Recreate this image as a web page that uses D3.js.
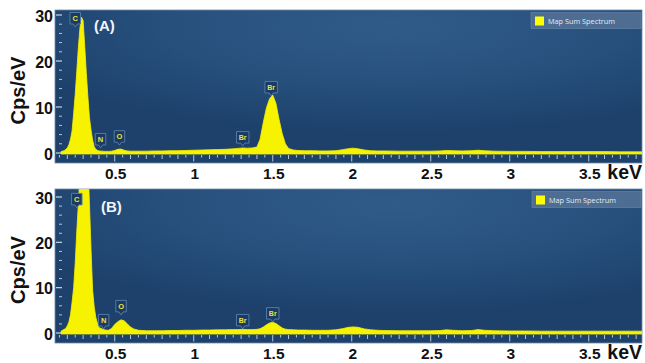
<!DOCTYPE html>
<html>
<head>
<meta charset="utf-8">
<script src="https://cdn.jsdelivr.net/npm/d3@7/dist/d3.min.js"></script>
<style>
  html, body { margin: 0; padding: 0; background: #ffffff; }
  svg { display: block; }
</style>
</head>
<body>
<svg id="chart" width="645" height="363"></svg>
<script>
// EDS spectra: energy grid (keV) shared by both panels
const energy = [
  0.16, 0.18, 0.19, 0.20, 0.21, 0.22, 0.23, 0.24, 0.25, 0.26, 0.27, 0.28, 0.29, 0.30,
  0.31, 0.32, 0.33, 0.34, 0.35, 0.36, 0.37, 0.38, 0.39, 0.40, 0.42, 0.44, 0.46, 0.48,
  0.50, 0.52, 0.54, 0.56, 0.58, 0.60, 0.62, 0.65, 0.70, 0.75, 0.80, 0.85, 0.90, 0.95,
  1.00, 1.05, 1.10, 1.15, 1.20, 1.25, 1.28, 1.31, 1.34, 1.37, 1.40, 1.42, 1.44, 1.46,
  1.48, 1.50, 1.52, 1.54, 1.56, 1.58, 1.60, 1.63, 1.66, 1.70, 1.75, 1.80, 1.85, 1.90,
  1.94, 1.98, 2.01, 2.04, 2.08, 2.12, 2.16, 2.20, 2.30, 2.40, 2.50, 2.56, 2.60, 2.64,
  2.70, 2.76, 2.80, 2.84, 2.90, 3.00, 3.10, 3.20, 3.30, 3.40, 3.50, 3.60, 3.70, 3.84
];

// Counts (cps/eV), sample A
const countsA = [
  0.3, 0.5, 0.8, 1.1, 1.8, 3.0, 4.8, 8.6, 12.8, 17.8, 23.0, 27.2, 29.5, 28.8,
  23.2, 17.5, 12.3, 7.7, 5.0, 2.8, 1.4, 0.8, 0.6, 0.45, 0.4, 0.35, 0.35, 0.4,
  0.55, 0.8, 0.85, 0.6, 0.45, 0.4, 0.4, 0.4, 0.4, 0.45, 0.45, 0.5, 0.5, 0.55,
  0.6, 0.65, 0.7, 0.75, 0.8, 0.9, 1.0, 1.1, 1.05, 1.1, 1.3, 3.0, 6.6, 9.8,
  11.8, 12.6, 10.8, 7.3, 4.2, 2.0, 1.0, 0.65, 0.55, 0.5, 0.5, 0.45, 0.45, 0.5,
  0.7, 0.95, 1.05, 0.9, 0.65, 0.5, 0.45, 0.45, 0.4, 0.4, 0.4, 0.45, 0.55, 0.5,
  0.45, 0.5, 0.6, 0.5, 0.4, 0.35, 0.35, 0.3, 0.3, 0.3, 0.3, 0.3, 0.25, 0.25
];

// Counts (cps/eV), sample B (carbon peak runs off the top of the axis)
const countsB = [
  0.4, 0.8, 1.0, 1.6, 2.4, 4.0, 6.8, 10.0, 15.5, 22.5, 28.5, 35, 42, 47,
  48, 45, 38, 28.5, 18.5, 9.5, 5.8, 3.5, 2.2, 1.2, 0.9, 0.65, 0.6, 1.0,
  1.9, 2.5, 2.9, 2.7, 2.0, 1.3, 0.9, 0.6, 0.5, 0.5, 0.5, 0.55, 0.55, 0.6,
  0.6, 0.65, 0.65, 0.7, 0.7, 0.75, 0.75, 0.8, 0.75, 0.75, 0.8, 0.95, 1.3, 1.8,
  2.2, 2.35, 2.1, 1.6, 1.1, 0.85, 0.75, 0.7, 0.65, 0.65, 0.6, 0.6, 0.6, 0.7,
  0.95, 1.25, 1.35, 1.25, 0.9, 0.7, 0.6, 0.55, 0.5, 0.5, 0.5, 0.55, 0.7, 0.6,
  0.5, 0.55, 0.75, 0.6, 0.5, 0.45, 0.45, 0.4, 0.4, 0.4, 0.4, 0.4, 0.4, 0.4
];

// Axis ticks
const xTickLabels = [0.5, 1, 1.5, 2, 2.5, 3, 3.5];
const yTickLabels = [0, 10, 20, 30];

// Element markers: symbol, energy of pointer (keV), pointer height (cps/eV)
const markerSymbols = ["C", "N", "O", "Br", "Br"];
const markerEnergyA = [0.25, 0.41, 0.53, 1.31, 1.49];
const markerLevelA  = [27.4, 1.1, 1.7, 1.5, 12.4];
const markerEnergyB = [0.26, 0.43, 0.54, 1.31, 1.50];
const markerLevelB  = [27.6, 0.9, 4.0, 0.9, 2.4];

const panelTitles = ["(A)", "(B)"];
const legendText = "Map Sum Spectrum";

const svg = d3.select("#chart");

const defs = svg.append("defs");
const grad = defs.append("radialGradient")
  .attr("id", "panelBg")
  .attr("cx", "58%").attr("cy", "10%").attr("r", "70%");
grad.append("stop").attr("offset", "0%").attr("stop-color", "#305b88");
grad.append("stop").attr("offset", "55%").attr("stop-color", "#27507d");
grad.append("stop").attr("offset", "100%").attr("stop-color", "#1d416b");

const x = d3.scaleLinear().domain([0.122, 3.837]).range([55, 642]);

const panels = [
  { top: 10, bottom: 163, y0: 153, y30: 15, counts: countsA,
    mEnergy: markerEnergyA, mLevel: markerLevelA, title: panelTitles[0],
    titleX: 94, titleY: 31 },
  { top: 189, bottom: 343, y0: 333, y30: 197, counts: countsB,
    mEnergy: markerEnergyB, mLevel: markerLevelB, title: panelTitles[1],
    titleX: 101, titleY: 212 }
];

const spectrum = energy.map((e, i) => ({ e, a: countsA[i], b: countsB[i] }));

panels.forEach((p, pi) => {
  const g = svg.append("g");
  const y = d3.scaleLinear().domain([0, 30]).range([p.y0, p.y30]);
  const left = 55, right = 642;

  // panel background
  g.append("rect")
    .attr("x", left).attr("y", p.top)
    .attr("width", right - left).attr("height", p.bottom - p.top)
    .attr("fill", "url(#panelBg)")
    .attr("stroke", "#6f8aa8").attr("stroke-width", 0.8);

  const clipId = "clip" + pi;
  defs.append("clipPath").attr("id", clipId)
    .append("rect")
    .attr("x", left).attr("y", p.top)
    .attr("width", right - left).attr("height", p.bottom - p.top);

  // x ticks, hanging below the zero line
  const xt = d3.range(0.15, 3.84, 0.05).map(v => +v.toFixed(2));
  const tickTop = p.y0 + 2;
  g.append("g").selectAll("line").data(xt).join("line")
    .attr("x1", d => x(d)).attr("x2", d => x(d))
    .attr("y1", tickTop)
    .attr("y2", d => {
      const r = Math.round(d * 100);
      if (r % 50 === 0) return tickTop + 6.5;
      if (r % 10 === 0) return tickTop + 4;
      return tickTop + 2.5;
    })
    .attr("stroke", "#c9d6e4").attr("stroke-width", 0.9);

  // y ticks on the left edge
  const yt = d3.range(0, 31, 2);
  g.append("g").selectAll("line").data(yt).join("line")
    .attr("x1", d => d % 10 === 0 ? left + 1 : left + 4)
    .attr("x2", left + 7)
    .attr("y1", d => y(d)).attr("y2", d => y(d))
    .attr("stroke", "#c9d6e4").attr("stroke-width", d => d % 10 === 0 ? 1.2 : 0.9);

  // spectrum fill
  const key = pi === 0 ? "a" : "b";
  const area = d3.area()
    .x(d => x(d.e))
    .y0(p.y0 + 1)
    .y1(d => y(d[key]))
    .curve(d3.curveLinear);
  g.append("path")
    .datum(spectrum)
    .attr("clip-path", `url(#${clipId})`)
    .attr("d", area)
    .attr("fill", "#f6f200")
    .attr("stroke", "#f6f200").attr("stroke-width", 0.8);

  // element markers
  markerSymbols.forEach((sym, i) => {
    const cx = x(p.mEnergy[i]);
    const tipY = y(p.mLevel[i]);
    const w = sym.length > 1 ? 12.5 : 10.5, h = 11.5;
    const by = tipY - 3 - h;
    const mg = g.append("g");
    mg.append("path")
      .attr("d", `M${cx - w / 2},${by} h${w} v${h} h${-w / 2 + 2} l-2,3 l-2,-3 h${-w / 2 + 2} Z`)
      .attr("fill", "#1b3a66")
      .attr("stroke", "#5b80ab").attr("stroke-width", 0.9);
    mg.append("text")
      .attr("x", cx).attr("y", by + h / 2 + 2.7)
      .attr("text-anchor", "middle")
      .attr("font-family", "Liberation Sans, Arial, sans-serif")
      .attr("font-size", sym.length > 1 ? 7 : 7.5)
      .attr("font-weight", "bold")
      .attr("fill", "#e8e53a")
      .text(sym);
  });

  // panel title
  g.append("text")
    .attr("x", p.titleX).attr("y", p.titleY)
    .attr("font-family", "Liberation Sans, Arial, sans-serif")
    .attr("font-size", 15).attr("font-weight", "bold")
    .attr("fill", "#f2f5f9")
    .text(p.title);

  // legend
  const lg = g.append("g");
  const lx = pi === 0 ? 531 : 532, ly = p.top + 2.5;
  lg.append("rect")
    .attr("x", lx).attr("y", ly).attr("width", 641 - lx).attr("height", 16)
    .attr("fill", "#4d6d93").attr("stroke", "#6c88aa").attr("stroke-width", 0.6);
  lg.append("rect")
    .attr("x", lx + 4).attr("y", ly + 4).attr("width", 9).attr("height", 9)
    .attr("fill", "#ffff00");
  lg.append("text")
    .attr("x", lx + 17).attr("y", ly + 11.2)
    .attr("font-family", "Open Sans, Noto Sans, sans-serif")
    .attr("font-size", 7.3)
    .attr("fill", "#e6ebf2")
    .text(legendText);

  // y tick labels
  g.append("g").selectAll("text").data(yTickLabels).join("text")
    .attr("x", 53).attr("y", d => y(d) + 6.5)
    .attr("text-anchor", "end")
    .attr("font-family", "Liberation Sans, Arial, sans-serif")
    .attr("font-size", 16).attr("font-weight", "bold")
    .attr("fill", "#111")
    .text(d => d);

  // x tick labels
  g.append("g").selectAll("text").data(xTickLabels).join("text")
    .attr("x", d => x(d) + 1).attr("y", p.bottom + 15.5)
    .attr("text-anchor", "middle")
    .attr("font-family", "Liberation Sans, Arial, sans-serif")
    .attr("font-size", 15.5).attr("font-weight", "bold")
    .attr("fill", "#111")
    .text(d => d);

  // axis units
  g.append("text")
    .attr("x", 642).attr("y", p.bottom + 15.5)
    .attr("text-anchor", "end")
    .attr("font-family", "Liberation Sans, Arial, sans-serif")
    .attr("font-size", 19.5).attr("font-weight", "bold")
    .attr("fill", "#111")
    .text("keV");

  g.append("text")
    .attr("transform", `translate(25,${(p.top + p.bottom) / 2 + 4}) rotate(-90)`)
    .attr("text-anchor", "middle")
    .attr("font-family", "Liberation Sans, Arial, sans-serif")
    .attr("font-size", 20).attr("font-weight", "bold")
    .attr("fill", "#111")
    .text("Cps/eV");
});
</script>
</body>
</html>
